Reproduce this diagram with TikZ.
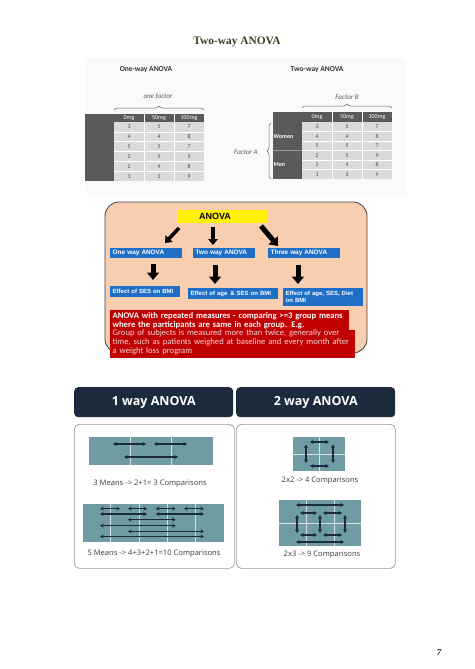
\documentclass[tikz,border=0pt]{standalone}
\usepackage{fontspec}
\setmainfont{Liberation Serif}
\newfontfamily\calfont{Carlito}
\newfontfamily\arfont{Liberation Sans}
\newfontfamily\osfont{Open Sans}
\usetikzlibrary{arrows.meta,decorations.pathreplacing}
\definecolor{titlegreen}{HTML}{34421F}
\definecolor{tdark}{HTML}{5A5A5A}
\definecolor{tcell}{HTML}{DADADA}
\definecolor{peach}{HTML}{F8CDB0}
\definecolor{boxblue}{HTML}{1F6FC6}
\definecolor{ared}{HTML}{C00000}
\definecolor{pinkw}{HTML}{F6D6D6}
\definecolor{navy}{HTML}{1C2B3B}
\definecolor{teal}{HTML}{6F9CA2}
\definecolor{tline}{HTML}{D4E3E5}
\definecolor{capgray}{HTML}{3C3C3C}
\begin{document}
\begin{tikzpicture}[x=1pt,y=-1pt,
  hdrtxt/.style={font=\calfont\fontsize{6}{7}\selectfont, text=white, inner sep=0},
  numtxt/.style={font=\calfont\fontsize{5.8}{6}\selectfont, text=black!70, inner sep=0},
  captxt/.style={font=\calfont\itshape\fontsize{7}{8}\selectfont, text=black!65, inner sep=0},
  subttl/.style={font=\calfont\bfseries\fontsize{7.5}{8}\selectfont, text=black!80, inner sep=0},
  bracestyle/.style={decorate, decoration={brace, amplitude=4pt}, draw=black!60, line width=0.5pt},
  bluebox/.style={fill=boxblue, text=white, font=\arfont\bfseries\fontsize{6.4}{7.4}\selectfont,
     anchor=north west, inner xsep=2.5pt, inner ysep=0pt, align=left},
  effbox/.style={bluebox, font=\arfont\bfseries\fontsize{6}{7}\selectfont},
  blockarrow/.style={line width=3.6pt, -{Triangle[width=9.5pt,length=6pt]}},
  bigblockarrow/.style={line width=5pt, -{Triangle[width=12pt,length=7.5pt]}},
  hdrbox/.style={fill=navy, text=white, rounded corners=4pt, font=\osfont\bfseries\fontsize{12.5}{14}\selectfont,
     anchor=north west, minimum width=159pt, minimum height=30pt, inner sep=0},
  panelbox/.style={draw=black!40, line width=0.7pt, fill=white, rounded corners=5pt,
     anchor=north west, minimum width=160pt, minimum height=144pt, inner sep=0},
  gridline/.style={draw=tline, line width=0.6pt},
  cmp/.style={draw=navy, line width=1.1pt, {Stealth[length=3.6pt,width=4pt]}-{Stealth[length=3.6pt,width=4pt]}},
  caption/.style={font=\osfont\fontsize{7.6}{8}\selectfont, text=capgray, inner sep=0}
]
\useasboundingbox (0,0) rectangle (474,669);
\fill[white] (0,0) rectangle (474,669);

% title
\node[font=\bfseries\fontsize{11.4}{13}\selectfont, text=titlegreen, inner sep=0] (title) at (237,42) {Two-way ANOVA};

% top panel background
\fill[black!2] (85,58) rectangle (405,195);

% ---------- one-way table ----------
\node[subttl] (t1) at (146,70) {One-way ANOVA};
\node[captxt] (f1) at (158,97) {one factor};
\fill[tdark] (85,114) rectangle (204,122);
\fill[tdark] (85,122) rectangle (114,181);
\fill[tcell] (114,122) rectangle (204,181);
\foreach \i in {1,...,5} \draw[white, line width=0.5pt] (114,122+9.83*\i) -- (204,122+9.83*\i);
\foreach \x in {144,174} \draw[white, line width=0.5pt] (\x,114) -- (\x,181);
\node[hdrtxt] (h1a) at (129,118) {0mg};
\node[hdrtxt] (h1b) at (159,118) {50mg};
\node[hdrtxt] (h1c) at (189,118) {100mg};
\foreach \a/\b/\c [count=\i from 0] in {3/5/7,4/4/8,5/5/7,2/5/9,2/4/8,1/3/9}{
  \node[numtxt] (la\i) at (129,127+9.83*\i) {\a};
  \node[numtxt] (lb\i) at (159,127+9.83*\i) {\b};
  \node[numtxt] (lc\i) at (189,127+9.83*\i) {\c};
}
\coordinate (b1l) at (114,110);
\coordinate (b1r) at (204,110);
\draw[bracestyle] (b1l) -- (b1r);

% ---------- two-way table ----------
\node[subttl] (t2) at (317,70) {Two-way ANOVA};
\node[captxt] (f2) at (347,97) {Factor B};
\node[captxt] (f3) at (246,152) {Factor A};
\fill[tdark] (273,112) rectangle (392,122);
\fill[tdark] (273,122) rectangle (302,179);
\draw[black!40, line width=0.5pt] (273,150.5) -- (302,150.5);
\fill[tcell] (302,122) rectangle (392,179);
\foreach \i in {1,...,5} \draw[white, line width=0.5pt] (302,122+9.5*\i) -- (392,122+9.5*\i);
\foreach \x in {332,362} \draw[white, line width=0.5pt] (\x,112) -- (\x,179);
\node[hdrtxt] (h2a) at (317,117) {0mg};
\node[hdrtxt] (h2b) at (347,117) {50mg};
\node[hdrtxt] (h2c) at (377,117) {100mg};
\node[hdrtxt, font=\calfont\bfseries\fontsize{6}{7}\selectfont, anchor=west] (women) at (273.5,137) {Women};
\node[hdrtxt, font=\calfont\bfseries\fontsize{6}{7}\selectfont, anchor=west] (men) at (273.5,165) {Men};
\foreach \a/\b/\c [count=\i from 0] in {3/5/7,4/4/8,5/5/7,2/5/9,2/4/8,1/3/9}{
  \node[numtxt] (ra\i) at (317,126.8+9.5*\i) {\a};
  \node[numtxt] (rb\i) at (347,126.8+9.5*\i) {\b};
  \node[numtxt] (rc\i) at (377,126.8+9.5*\i) {\c};
}
\coordinate (b2l) at (302,108);
\coordinate (b2r) at (392,108);
\draw[bracestyle] (b2l) -- (b2r);
\coordinate (b3b) at (271,179);
\coordinate (b3t) at (271,123);
\draw[bracestyle] (b3b) -- (b3t);

% ---------- middle flow diagram ----------
\draw[fill=peach, draw=black!75, line width=0.8pt, rounded corners=14pt] (105,202) rectangle (367,353);
\node[fill=yellow, anchor=north west, minimum width=91pt, minimum height=13pt, inner sep=0] (anova) at (177,210) {};
\node[font=\arfont\bfseries\fontsize{9}{10}\selectfont, inner sep=0] (anovatxt) at (215,216.5) {ANOVA};

\node[bluebox, text width=67pt, minimum height=10pt] (one) at (110,248) {\mbox{One way ANOVA}};
\node[bluebox, text width=57pt, minimum height=10pt] (two) at (193,248) {\mbox{Two way ANOVA}};
\node[bluebox, text width=67pt, minimum height=10pt] (three) at (268,248) {\mbox{Three way ANOVA}};

\node[effbox, text width=65pt, minimum height=11pt] (e1) at (110,286) {\mbox{Effect of SES on BMI}};
\node[effbox, text width=85pt, minimum height=11pt] (e2) at (188,288) {\mbox{Effect of age~\,\& SES on BMI}};
\node[effbox, text width=75pt, minimum height=18pt] (e3) at (283,288) {\mbox{Effect of age, SES, Diet}\\on BMI};

\coordinate (a1s) at (179,228); \coordinate (a1e) at (165,243);
\coordinate (a2s) at (213,227); \coordinate (a2e) at (213,245);
\coordinate (a3s) at (261,226); \coordinate (a3e) at (278,246);
\coordinate (d1s) at (153,264); \coordinate (d1e) at (153,280);
\coordinate (d2s) at (215,265); \coordinate (d2e) at (215,284);
\coordinate (d3s) at (298,265); \coordinate (d3e) at (298,284);
\draw[blockarrow] (a1s) -- (a1e);
\draw[blockarrow] (a2s) -- (a2e);
\draw[bigblockarrow] (a3s) -- (a3e);
\draw[bigblockarrow] (d1s) -- (d1e);
\draw[bigblockarrow] (d2s) -- (d2e);
\draw[bigblockarrow] (d3s) -- (d3e);

\fill[ared] (110,310) rectangle (349,331);
\fill[ared] (110,330) rectangle (355,358);
\node[anchor=north west, inner sep=0, text width=244pt, align=left, text=white,
      font=\calfont\fontsize{8.6}{8.6}\selectfont] (redtext) at (112.5,312.5)
 {{\bfseries ANOVA with repeated measures - comparing >=3 group means\\
  where the participants are same in each group. E.g.}\\
  \color{pinkw}Group of subjects is measured more than twice, generally over\\
  time, such as patients weighed at baseline and every month after\\
  a weight loss program};

% ---------- bottom comparison ----------
\node[hdrbox] (hd1) at (74,387) {1 way ANOVA};
\node[hdrbox] (hd2) at (236,387) {2 way ANOVA};
\node[panelbox] (p1) at (74,424) {};
\node[panelbox, minimum width=159pt] (p2) at (236,424) {};

% left top grid (3 means)
\fill[teal] (89,437) rectangle (213,465);
\foreach \x in {130.3,171.7} \draw[gridline] (\x,437) -- (\x,465);
\coordinate (g1a) at (113,444); \coordinate (g1b) at (146,444);
\coordinate (g1c) at (154,444); \coordinate (g1d) at (187,444);
\coordinate (g1e) at (124,457); \coordinate (g1f) at (178,457);
\draw[cmp] (g1a) -- (g1b);
\draw[cmp] (g1c) -- (g1d);
\draw[cmp] (g1e) -- (g1f);
\node[caption] (c1) at (150,484) {3 Means -> 2+1= 3 Comparisons};

% left bottom grid (5 means)
\fill[teal] (83,504) rectangle (224,542);
\foreach \x in {110.7,139,167.3,195.7} \draw[gridline] (\x,504) -- (\x,542);
\foreach \xa/\xb/\yy [count=\k] in {100/120/508.7, 128/147/508.7, 155.7/175.7/508.7, 184/204/508.7,
   100/147/514, 155.7/204/514, 128/175.7/519.6, 100/175.7/525.7, 128/204/531.4, 100/204/536.5}{
  \coordinate (m\k s) at (\xa,\yy);
  \coordinate (m\k e) at (\xb,\yy);
  \draw[cmp] (m\k s) -- (m\k e);
}
\node[caption] (c2) at (154,554) {5 Means -> 4+3+2+1=10 Comparisons};

% right top grid (2x2)
\fill[teal] (293,437) rectangle (345,471);
\draw[gridline] (319,437) -- (319,471);
\draw[gridline] (293,454) -- (345,454);
\coordinate (q1) at (310,442); \coordinate (q2) at (329,442);
\coordinate (q3) at (310,466); \coordinate (q4) at (329,466);
\coordinate (q5) at (306,444.5); \coordinate (q6) at (306,463);
\coordinate (q7) at (333,444.5); \coordinate (q8) at (333,463);
\draw[cmp] (q1) -- (q2);
\draw[cmp] (q3) -- (q4);
\draw[cmp] (q5) -- (q6);
\draw[cmp] (q7) -- (q8);
\node[caption] (c3) at (320,480.5) {2x2 -> 4 Comparisons};

% right bottom grid (2x3)
\fill[teal] (279,500) rectangle (361,546);
\foreach \x in {306.5,334} \draw[gridline] (\x,500) -- (\x,546);
\draw[gridline] (279,523) -- (361,523);
\foreach \xa/\ya/\xb/\yb [count=\k] in {296/505/344/505, 300/513/317/513, 323/513/342/513,
   300/535/317/535, 323/535/342/535, 296/542/344/542,
   297/515/297/533, 320/515/320/533, 345/515/345/533}{
  \coordinate (r\k s) at (\xa,\ya);
  \coordinate (r\k e) at (\xb,\yb);
  \draw[cmp] (r\k s) -- (r\k e);
}
\node[caption] (c4) at (322,555) {2x3 -> 9 Comparisons};

% page number
\node[font=\bfseries\itshape\fontsize{9}{10}\selectfont, text=black!85, inner sep=0] (pg) at (439,653) {7};
\end{tikzpicture}
\end{document}
